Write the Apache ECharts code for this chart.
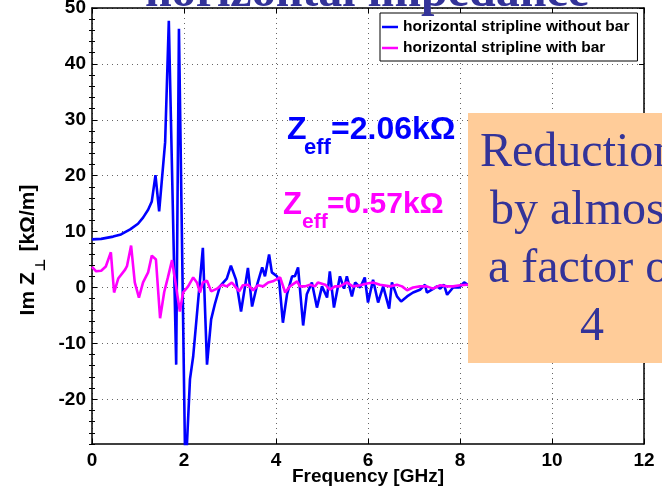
<!DOCTYPE html>
<html>
<head>
<meta charset="utf-8">
<script src="https://cdn.jsdelivr.net/npm/echarts@6/dist/echarts.min.js"></script>
<style>
  html, body { margin: 0; padding: 0; background: #ffffff; }
  #chart { width: 662px; height: 490px; }
</style>
</head>
<body>
<div id="chart"></div>
<script>
// Im Z_perp of the horizontal stripline, without the bar (GHz, kOhm/m)
const freqNoBar = [0.00, 0.20, 0.46, 0.63, 0.83, 1.00, 1.11, 1.22, 1.30, 1.38, 1.46, 1.59, 1.67, 1.83, 1.89, 2.03, 2.13, 2.20, 2.41, 2.50,
  2.59, 2.67, 2.78, 2.93, 3.02, 3.13, 3.24, 3.39, 3.48, 3.59, 3.70, 3.76, 3.85, 3.91, 4.02, 4.07, 4.15, 4.24, 4.35, 4.41,
  4.48, 4.59, 4.67, 4.78, 4.89, 5.00, 5.11, 5.17, 5.26, 5.39, 5.48, 5.54, 5.65, 5.72, 5.83, 5.93, 6.00, 6.11, 6.22, 6.33,
  6.46, 6.52, 6.63, 6.72, 6.85, 6.98, 7.13, 7.24, 7.28, 7.39, 7.50, 7.57, 7.65, 7.72, 7.85, 7.98, 8.09, 8.22];
const imNoBar = [8.6, 8.7, 9.1, 9.5, 10.4, 11.4, 12.5, 13.9, 15.4, 20.1, 13.6, 26.0, 47.7, -13.8, 46.3, -34.0, -16.4, -12.3, 7.1, -13.8,
  -5.7, -3.0, 0.2, 1.6, 3.9, 1.4, -4.3, 3.5, -3.4, 0.5, 3.6, 2.0, 5.9, 2.7, 2.0, 1.1, -6.3, -1.2, 2.0, 2.0,
  3.6, -6.8, -1.2, 0.9, -3.6, 0.2, -1.8, 2.9, -3.6, 2.0, -0.2, 2.0, -1.6, 0.9, 0.0, 1.8, -2.7, 1.4, -2.7, 0.2,
  -3.8, 0.9, -1.6, -2.5, -1.6, -0.9, -0.4, 0.5, -0.9, -0.4, 0.2, -0.2, 0.5, -1.3, 0.0, 0.0, 0.9, 0.2];

// Im Z_perp of the horizontal stripline, with the bar
const freqBar = [0.00, 0.09, 0.20, 0.30, 0.41, 0.48, 0.57, 0.72, 0.76, 0.85, 0.93, 1.02, 1.11, 1.22, 1.30, 1.39, 1.48, 1.57, 1.65, 1.74,
  1.91, 1.98, 2.09, 2.20, 2.28, 2.35, 2.41, 2.50, 2.59, 2.72, 2.83, 2.93, 3.04, 3.11, 3.20, 3.28, 3.39, 3.50, 3.61, 3.72,
  3.83, 3.93, 4.09, 4.20, 4.30, 4.46, 4.52, 4.63, 4.74, 4.85, 4.91, 5.07, 5.17, 5.28, 5.39, 5.54, 5.67, 5.83, 5.98, 6.11,
  6.26, 6.48, 6.63, 6.74, 6.85, 6.98, 7.13, 7.28, 7.41, 7.57, 7.72, 7.85, 8.00, 8.15, 8.22];
const imBar = [3.7, 2.9, 3.0, 3.75, 6.3, -0.9, 1.6, 3.2, 3.8, 7.5, 0.9, -1.8, 0.9, 2.7, 5.7, 5.0, -5.5, -0.8, 1.8, 4.9,
  -4.3, -0.9, 0.2, 1.8, 0.9, -0.9, 0.9, 1.2, -0.7, -0.2, 0.5, 0.2, 0.9, 0.2, -0.7, 0.4, 0.5, -0.5, 0.4, 0.2,
  0.9, 1.1, 1.8, -0.9, 0.2, 1.1, 0.2, 0.2, 0.5, 0.2, 0.9, 0.5, -0.4, 0.2, 0.2, 0.9, 0.2, 0.4, 0.7, 0.9,
  0.5, 0.2, 0.5, 0.2, -0.5, 0.0, 0.2, 0.2, -0.2, 0.4, 0.2, 0.2, 0.4, 0.5, 0.5];

const xTicks = [0, 2, 4, 6, 8, 10, 12];
const yTicks = [-20, -10, 0, 10, 20, 30, 40, 50];
const yMinorTicks = [-28, -26, -24, -22, -18, -16, -14, -12, -8, -6, -4, -2, 2, 4, 6, 8, 12, 14, 16, 18,
  22, 24, 26, 28, 32, 34, 36, 38, 42, 44, 46, 48];

const seriesNames = ['horizontal stripline without bar', 'horizontal stripline with bar'];
const noteLines = ['Reduction', 'by almost', 'a factor of', '4'];

const axisFont = "'Liberation Sans', Arial, Helvetica, sans-serif";
const slideFont = "'Liberation Serif', 'Times New Roman', serif";
const slideBlue = '#333399';

const chart = echarts.init(document.getElementById('chart'), null, { renderer: 'canvas' });

const gridLine = { show: true, lineStyle: { color: '#666', width: 1, type: [1, 4] } };
const frameLine = { show: true, onZero: false, lineStyle: { color: '#000', width: 1.5 } };
const tickStyle = { color: '#000', width: 1 };

const option = {
  animation: false,
  backgroundColor: '#ffffff',
  grid: { left: 92, top: 8, right: 18, bottom: 46, containLabel: false, outerBoundsMode: 'none' },
  legend: {
    data: seriesNames.map(n => ({ name: n, icon: 'rect' })),
    orient: 'vertical',
    left: 380,
    top: 13,
    padding: [4, 8, 3, 2],
    itemGap: 1,
    itemWidth: 16,
    itemHeight: 2.5,
    backgroundColor: '#ffffff',
    borderColor: '#000',
    borderWidth: 1,
    borderRadius: 0,
    textStyle: { fontFamily: axisFont, fontWeight: 'bold', fontSize: 15.5, color: '#000', lineHeight: 20 }
  },
  xAxis: [
    {
      type: 'value', min: 0, max: 12, interval: 2, position: 'bottom',
      name: 'Frequency [GHz]', nameLocation: 'middle', nameGap: 23, nameMoveOverlap: false,
      nameTextStyle: { fontFamily: axisFont, fontWeight: 'bold', fontSize: 19, color: '#000' },
      axisLine: frameLine,
      axisTick: { show: true, inside: true, length: 5, lineStyle: tickStyle },
      axisLabel: { fontFamily: axisFont, fontWeight: 'bold', fontSize: 19, color: '#000', margin: 7 },
      splitLine: gridLine
    },
    {
      type: 'value', min: 0, max: 12, interval: 2, position: 'top',
      axisLine: frameLine,
      axisTick: { show: true, inside: true, length: 5, lineStyle: tickStyle },
      axisLabel: { show: false },
      splitLine: { show: false }
    }
  ],
  yAxis: [
    {
      type: 'value', min: -28, max: 50, position: 'left',
      axisLine: frameLine,
      axisTick: { show: true, inside: true, length: 5, customValues: yTicks, lineStyle: tickStyle },
      axisLabel: { fontFamily: axisFont, fontWeight: 'bold', fontSize: 19, color: '#000', margin: 6, customValues: yTicks },
      splitLine: gridLine
    },
    {
      type: 'value', min: -28, max: 50, position: 'right',
      axisLine: frameLine,
      axisTick: { show: true, inside: true, length: 5, customValues: yTicks, lineStyle: tickStyle },
      axisLabel: { show: false },
      splitLine: { show: false }
    },
    {
      type: 'value', min: -28, max: 50, position: 'left',
      axisLine: { show: false },
      axisTick: { show: true, inside: true, length: 3, customValues: yMinorTicks, lineStyle: tickStyle },
      axisLabel: { show: false },
      splitLine: { show: false }
    },
    {
      type: 'value', min: -28, max: 50, position: 'right',
      axisLine: { show: false },
      axisTick: { show: true, inside: true, length: 3, customValues: yMinorTicks, lineStyle: tickStyle },
      axisLabel: { show: false },
      splitLine: { show: false }
    }
  ],
  series: [
    {
      name: seriesNames[0], type: 'line', xAxisIndex: 0, yAxisIndex: 0,
      data: freqNoBar.map((f, i) => [f, imNoBar[i]]),
      symbol: 'none', showSymbol: false, clip: true,
      lineStyle: { color: '#0000ff', width: 2.6 }, itemStyle: { color: '#0000ff' }
    },
    {
      name: seriesNames[1], type: 'line', xAxisIndex: 0, yAxisIndex: 0,
      data: freqBar.map((f, i) => [f, imBar[i]]),
      symbol: 'none', showSymbol: false, clip: true,
      lineStyle: { color: '#ff00ff', width: 2.6 }, itemStyle: { color: '#ff00ff' }
    }
  ],
  graphic: [
    // y-axis title, rotated, with the perpendicular subscript
    {
      type: 'text', x: 33, y: 250, rotation: Math.PI / 2, z: 10,
      style: {
        text: '{m|Im Z}{s|⊥}{m| [kΩ/m]}',
        align: 'center', verticalAlign: 'middle',
        rich: {
          m: { fontFamily: axisFont, fontWeight: 'bold', fontSize: 21, color: '#000', lineHeight: 30, verticalAlign: 'top' },
          s: { fontFamily: "'DejaVu Sans', sans-serif", fontWeight: 'bold', fontSize: 14, color: '#000', lineHeight: 14, padding: [16, 1, 0, 1], verticalAlign: 'top' }
        }
      }
    },
    // effective impedance annotations
    { type: 'text', left: 287, top: 114, z: 10, style: { text: 'Z', fontFamily: axisFont, fontWeight: 'bold', fontSize: 32, fill: '#0000ff' } },
    { type: 'text', left: 304, top: 137, z: 10, style: { text: 'eff', fontFamily: axisFont, fontWeight: 'bold', fontSize: 22, fill: '#0000ff' } },
    { type: 'text', left: 331, top: 114, z: 10, style: { text: '=2.06kΩ', fontFamily: axisFont, fontWeight: 'bold', fontSize: 32, fill: '#0000ff' } },
    { type: 'text', left: 283, top: 190, z: 10, style: { text: 'Z', fontFamily: axisFont, fontWeight: 'bold', fontSize: 31, fill: '#ff00ff' } },
    { type: 'text', left: 302, top: 212, z: 10, style: { text: 'eff', fontFamily: axisFont, fontWeight: 'bold', fontSize: 21, fill: '#ff00ff' } },
    { type: 'text', left: 327, top: 190, z: 10, style: { text: '=0.57kΩ', fontFamily: axisFont, fontWeight: 'bold', fontSize: 30, fill: '#ff00ff' } },
    // slide heading, cut by the top edge
    {
      type: 'text', x: 367, y: -6, z: 20,
      style: { text: 'horizontal impedance', fontFamily: slideFont, fontWeight: 'bold', fontSize: 48, fill: slideBlue, align: 'center', verticalAlign: 'middle' }
    },
    // callout box
    { type: 'rect', shape: { x: 468, y: 113, width: 200, height: 250 }, z: 30, style: { fill: '#ffcc99' } },
    { type: 'text', x: 480, y: 153, z: 31, style: { text: noteLines[0], fontFamily: slideFont, fontSize: 48, fill: slideBlue, verticalAlign: 'middle' } },
    { type: 'text', x: 490, y: 211, z: 31, style: { text: noteLines[1], fontFamily: slideFont, fontSize: 48, fill: slideBlue, verticalAlign: 'middle' } },
    { type: 'text', x: 488, y: 269, z: 31, style: { text: noteLines[2], fontFamily: slideFont, fontSize: 48, fill: slideBlue, verticalAlign: 'middle' } },
    { type: 'text', x: 580, y: 327, z: 31, style: { text: noteLines[3], fontFamily: slideFont, fontSize: 48, fill: slideBlue, verticalAlign: 'middle' } }
  ]
};

chart.setOption(option);
</script>
</body>
</html>
